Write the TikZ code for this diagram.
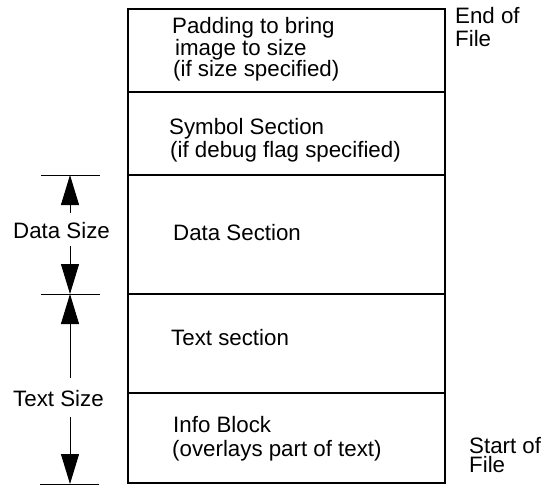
\documentclass[tikz,border=0pt]{standalone}
\usepackage{fontspec}
\setmainfont{Liberation Sans}
\usetikzlibrary{arrows.meta}
\begin{document}
\begin{tikzpicture}[x=1pt,y=-1pt,
  sec/.style={draw,line width=1.1pt,minimum width=317pt,inner sep=0pt,outer sep=0pt},
  lbl/.style={inner sep=0pt,anchor=base west,font=\fontsize{22.3pt}{22pt}\selectfont},
  tick/.style={line width=1pt},
  arr/.style={line width=1pt,-{Triangle[length=30pt,width=18pt]}}]
\useasboundingbox (0,0) rectangle (543,485);
% sections
\node[sec,minimum height=83pt] (pad) at (286.5,50.5) {};
\node[sec,minimum height=83pt] (sym) at (286.5,133.5) {};
\node[sec,minimum height=119pt] (data) at (286.5,234.5) {};
\node[sec,minimum height=99pt] (text) at (286.5,343.5) {};
\node[sec,minimum height=90pt] (info) at (286.5,438) {};
% section texts
\node[lbl] (tpad1) at (172,33) {Padding to bring};
\node[lbl] (tpad2) at (175,55) {image to size};
\node[lbl] (tpad3) at (173,76) {(if size specified)};
\node[lbl] (tsym1) at (169,134) {Symbol Section};
\node[lbl] (tsym2) at (170,157) {(if debug flag specified)};
\node[lbl] (tdata) at (173,240) {Data Section};
\node[lbl] (ttext) at (171,345) {Text section};
\node[lbl] (tinfo1) at (173,432) {Info Block};
\node[lbl] (tinfo2) at (172,456) {(overlays part of text)};
% side texts
\node[lbl] (eof1) at (455,23) {End of};
\node[lbl] (eof2) at (455,46) {File};
\node[lbl] (sof1) at (469,453) {Start of};
\node[lbl] (sof2) at (469,472) {File};
% size labels
\node[lbl] (dsize) at (13,238) {Data Size};
\node[lbl] (tsize) at (13,406) {Text Size};
% ticks
\coordinate (dtl) at (41,175); \coordinate (dtr) at (100,175);
\coordinate (mtl) at (41,294); \coordinate (mtr) at (100,294);
\coordinate (btl) at (40,484); \coordinate (btr) at (99,484);
\draw[tick] (dtl) -- (dtr);
\draw[tick] (mtl) -- (mtr);
\draw[tick] (btl) -- (btr);
% arrows
\coordinate (da1) at (70,213); \coordinate (da2) at (70,246);
\coordinate (ta1) at (70,378); \coordinate (ta2) at (70,417);
\draw[arr] (da1) -- (70,175);
\draw[arr] (da2) -- (70,294);
\draw[arr] (ta1) -- (70,294);
\draw[arr] (ta2) -- (70,484);
\end{tikzpicture}
\end{document}
